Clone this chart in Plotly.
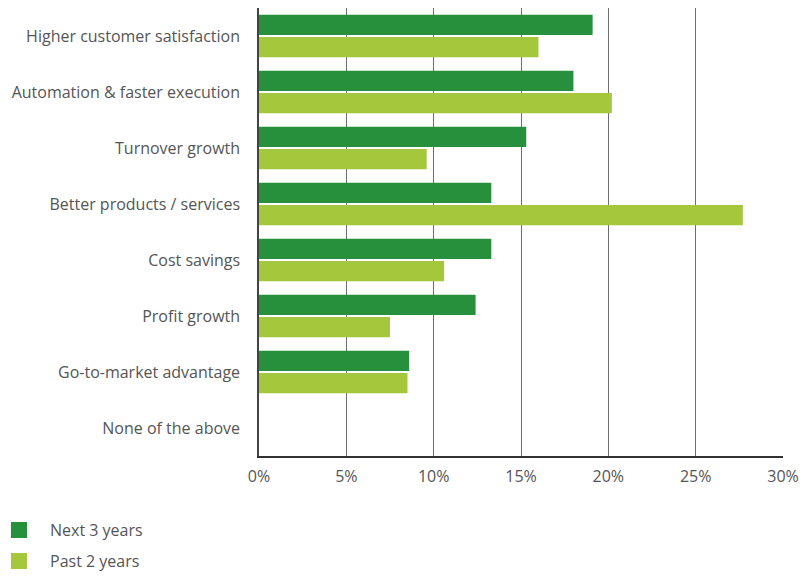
import plotly.graph_objects as go

# Survey categories (top to bottom)
categories = [
    "Higher customer satisfaction",
    "Automation & faster execution",
    "Turnover growth",
    "Better products / services",
    "Cost savings",
    "Profit growth",
    "Go-to-market advantage",
    "None of the above",
]

# Share of respondents, in percent
next_3_years = [19.1, 18.0, 15.3, 13.3, 13.3, 12.4, 8.6, 0.0]
past_2_years = [16.0, 20.2, 9.6, 27.7, 10.6, 7.5, 8.5, 0.0]

series_names = ["Next 3 years", "Past 2 years"]

tick_values = [0, 5, 10, 15, 20, 25, 30]
tick_labels = ["0%", "5%", "10%", "15%", "20%", "25%", "30%"]

DARK_GREEN = "#26903C"
LIGHT_GREEN = "#A5C73B"
TEXT_GREY = "#555555"
FONT = "Open Sans"
FONT_SIZE = 16

W, H = 803, 576
M_L, M_R, M_T, M_B = 259, 20, 8, 120
PLOT_W = W - M_L - M_R
PLOT_H = H - M_T - M_B

fig = go.Figure()

for name, values, color in zip(series_names, [next_3_years, past_2_years],
                               [DARK_GREEN, LIGHT_GREEN]):
    fig.add_trace(go.Bar(
        y=categories, x=values, orientation="h", name=name,
        marker=dict(color=color, line=dict(width=0)),
        showlegend=False,
    ))

# Legend drawn below the chart: square swatch + label per series
swatch = 16
legend_rows_px = [530, 561]  # vertical centres from the top of the page
for name, color, yc in zip(series_names, [DARK_GREEN, LIGHT_GREEN], legend_rows_px):
    fig.add_shape(
        type="rect", xref="paper", yref="paper",
        x0=(11 - M_L) / PLOT_W, x1=(27 - M_L) / PLOT_W,
        y0=(H - yc - swatch / 2 - M_B) / PLOT_H,
        y1=(H - yc + swatch / 2 - M_B) / PLOT_H,
        fillcolor=color, line=dict(width=0),
    )
    fig.add_annotation(
        xref="paper", yref="paper",
        x=(48 - M_L) / PLOT_W, xanchor="left",
        y=(H - yc - M_B) / PLOT_H, yanchor="middle",
        text=name, showarrow=False,
        font=dict(family=FONT, size=FONT_SIZE, color=TEXT_GREY),
    )

fig.update_layout(
    width=W, height=H,
    margin=dict(l=M_L, r=M_R, t=M_T, b=M_B, autoexpand=False),
    paper_bgcolor="white", plot_bgcolor="white",
    barmode="group", bargap=0.2, bargroupgap=0.1,
    font=dict(family=FONT, size=FONT_SIZE, color=TEXT_GREY),
    showlegend=False,
)

fig.update_xaxes(
    range=[0, 30], tickvals=tick_values, ticktext=tick_labels,
    showgrid=True, gridcolor="#6e6e6e", gridwidth=1,
    showline=True, linecolor="#333333", linewidth=1.5,
    zeroline=False, ticks="", ticklabelstandoff=5,
    tickfont=dict(family=FONT, size=FONT_SIZE, color=TEXT_GREY),
    fixedrange=True,
)
fig.update_yaxes(
    autorange="reversed", showgrid=False,
    showline=True, linecolor="#444444", linewidth=1.5,
    ticks="", ticklabelstandoff=14,
    tickfont=dict(family=FONT, size=FONT_SIZE, color=TEXT_GREY),
    fixedrange=True,
)

fig.write_html("out.html")
